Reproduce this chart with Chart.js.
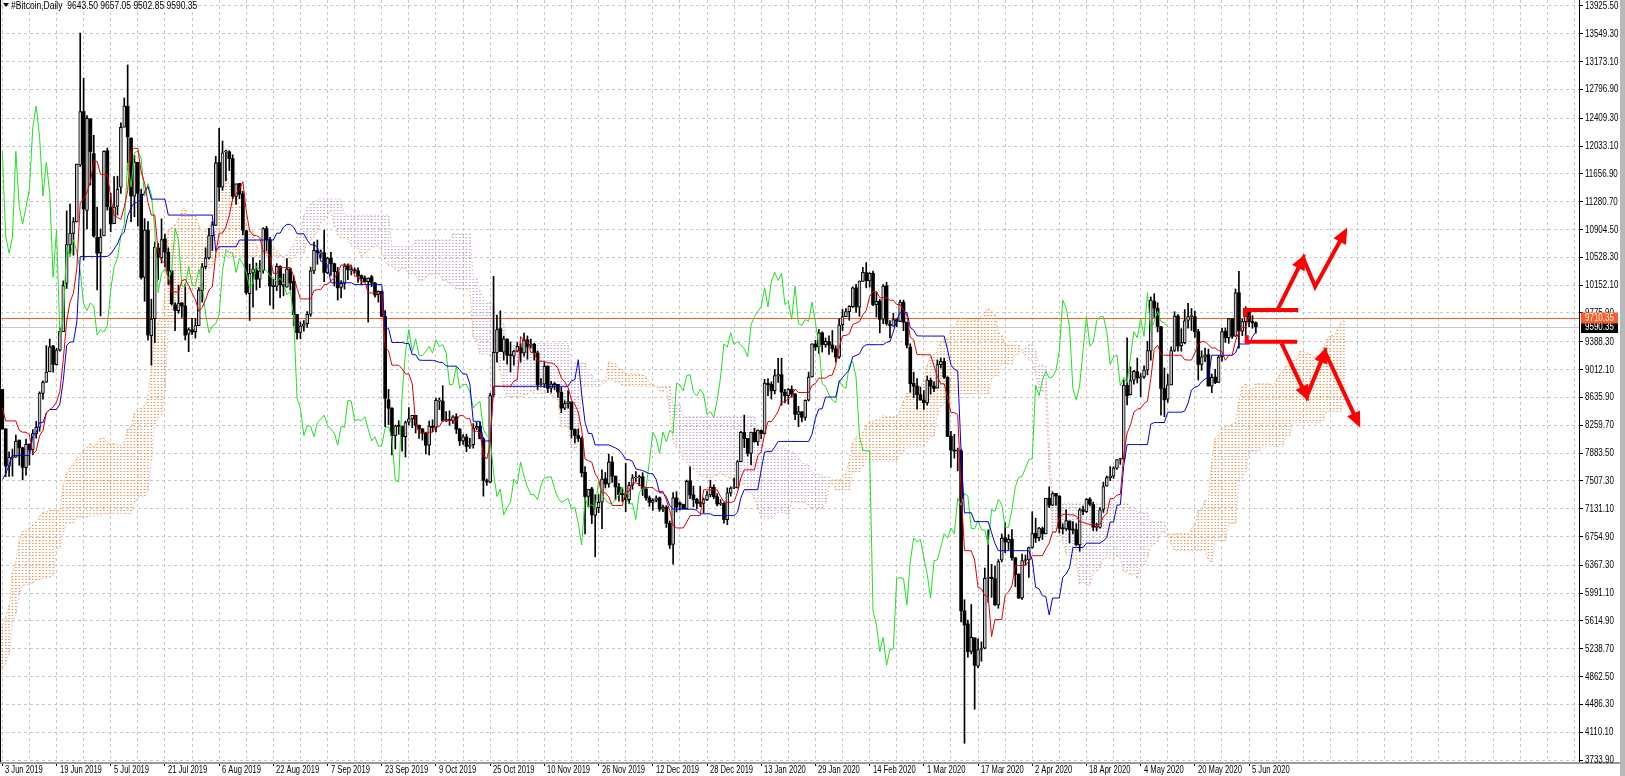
<!DOCTYPE html>
<html><head><meta charset="utf-8">
<script src="https://cdn.jsdelivr.net/npm/chart.js@4.4.1/dist/chart.umd.min.js"></script>
<style>html,body{margin:0;padding:0;background:#fff;overflow:hidden}canvas{display:block}</style>
</head><body>
<canvas id="c" width="1625" height="776"></canvas>
<script>
// ---- axis labels ----
const dateLabels = ['3 Jun 2019','19 Jun 2019','5 Jul 2019','21 Jul 2019','6 Aug 2019','22 Aug 2019','7 Sep 2019','23 Sep 2019','9 Oct 2019','25 Oct 2019','10 Nov 2019','26 Nov 2019','12 Dec 2019','28 Dec 2019','13 Jan 2020','29 Jan 2020','14 Feb 2020','1 Mar 2020','17 Mar 2020','2 Apr 2020','18 Apr 2020','4 May 2020','20 May 2020','5 Jun 2020'];
const priceTicks = [13925.5,13549.3,13173.1,12796.9,12409.3,12033.1,11656.9,11280.7,10904.5,10528.3,10152.1,9775.9,9388.3,9012.1,8635.9,8259.7,7883.5,7507.3,7131.1,6754.9,6367.3,5991.1,5614.9,5238.7,4862.5,4486.3,4110.1,3733.9];
const askPrice = 9710.35;

// ---- daily bars, 3 Jun 2019 .. 7 Jun 2020 ----
const open = [
8742,8210,7705,7819,7827,8058,7954,7684,8005,7930,8145,8231,8690,8842,8980,9330,9078,9274,9525,10175,10696,10853,11007,11779,12500,11162,12400,11931,
10796,10588,10818,11972,11203,10982,11217,11475,12287,12571,12139,11354,11813,11381,10257,10896,9471,9698,10654,10525,10777,10597,10346,9887,9809,9913,9872,9491,9549,9522,9604,
10078,10402,10519,10821,10960,11811,11476,11954,11953,11861,11350,11528,11385,10889,10038,10319,10358,10234,10350,10917,10764,10142,10136,10407,10160,10126,10372,10203,9756,9514,9598,
9630,9757,10345,10621,10588,10590,10316,10518,10443,10336,10123,10176,10415,10345,10356,10347,10282,10248,10201,10266,10183,10025,10067,9729,8603,8488,8114,8251,8246,8104,
8299,8345,8393,8259,8210,8149,7989,8246,8229,8585,8585,8315,8337,8321,8374,8205,8047,8100,7973,7997,8226,8243,8076,7509,7490,8667,9241,9565,9248,9422,9202,
9193,9259,9307,9235,9414,9340,9352,9235,8809,8813,9060,8760,8812,8812,8705,8491,8549,8574,8200,8120,8082,7622,7296,7398,7040,7145,7220,7536,7466,7764,
7571,7424,7321,7320,7254,7450,7548,7551,7561,7397,7277,7216,7244,7277,7124,7153,6931,6647,7277,7208,7188,7131,7508,7317,7255,7205,7202,7254,7317,7420,7294,
7194,7202,6984,7345,7410,7410,7768,8161,8082,7878,8162,8033,8189,8140,8825,8812,8725,8927,8941,8704,8658,8744,8680,8405,8440,8364,8597,8912,9357,9316,9508,
9346,9389,9344,9292,9183,9617,9726,9793,9863,10115,9855,10202,10323,10211,10313,9889,9936,9691,10143,9611,9599,9687,9663,9921,9651,9316,8825,8788,8671,
8599,8563,8866,8788,8760,9078,9122,8908,8111,7922,7910,7913,5750,5573,5201,5385,5002,5227,5245,6191,6206,6185,5831,6436,6738,6675,6719,6467,6245,5925,6430,
6437,6606,6797,6738,6862,6789,7273,7179,7337,7303,6867,6858,6965,6843,6845,6641,7116,7092,7260,7187,6879,6879,7121,7434,7550,7570,7679,7796,7806,8797,
8672,8869,8983,8895,8912,9007,9261,9936,9840,9591,8755,8610,8805,9271,9735,9333,9374,9675,9727,9725,9522,9080,9185,9212,8786,8910,8837,9185,9529,9438,9700,
9463,10050,9530,9660,9800,9660,9643.50];
const high = [
8743,8210,7901,7937,8126,8058,7962,8073,8005,8200,8310,8710,8858,9335,9423,9340,9300,9575,10210,11157,11247,11066,11790,13560,12950,12445,12400,12178,
11206,10912,11968,12006,11395,11620,11625,12345,12683,13129,12144,11906,11814,11451,11052,11010,9963,10736,10716,11048,10841,10657,10346,9916,10154,9916,10167,9575,9704,9701,10120,
10446,10657,10919,11009,11895,12273,12100,11979,11970,11915,11523,11528,11420,10890,10437,10524,10452,10487,10928,10948,10798,10232,10442,10418,10304,10512,10382,10279,9756,9656,9673,
9796,10396,10736,10762,10627,10898,10531,10595,10450,10394,10215,10442,10441,10422,10387,10386,10290,10275,10251,10285,10188,10074,10074,9807,8744,8497,8261,8319,8246,8314,
8497,8393,8393,8260,8215,8163,8316,8332,8625,8627,8793,8445,8453,8390,8414,8216,8134,8138,8082,8281,8297,8303,8093,7532,8692,10270,9749,9805,9463,9426,9383,
9275,9376,9362,9505,9466,9423,9368,9263,8891,9108,9060,8853,8836,8813,8769,8590,8728,8574,8210,8210,8102,7700,7353,7420,7320,7320,7655,7620,7868,7836,
7571,7474,7418,7743,7488,7592,7634,7585,7618,7424,7303,7266,7305,7290,7181,7171,6965,7348,7361,7223,7193,7518,7695,7436,7271,7435,7275,7366,7514,7455,7335,
7255,7212,7413,7428,7544,7781,8178,8396,8082,8166,8218,8197,8197,8879,8890,8846,9012,9164,9164,8745,8755,8792,8687,8515,8442,8602,8977,9358,9406,9553,9521,
9439,9468,9540,9331,9701,9824,9834,9876,10129,10165,10210,10393,10457,10321,10341,10053,9960,10161,10191,9675,9773,9698,9952,9951,9652,9360,8976,8890,8775,
8726,8921,8898,8844,9142,9167,9163,8914,8178,8136,7950,7929,5900,5625,5836,5385,5371,5331,6329,6844,6378,6359,6443,6789,6942,6781,6847,6467,6250,6517,6504,
6612,7088,7003,6878,6883,7271,7427,7357,7337,7303,6926,7119,6965,6958,6928,7134,7167,7269,7280,7220,6934,7145,7491,7574,7700,7700,7795,7815,8871,9440,
9048,9000,9167,8957,9062,9392,9992,10036,9914,9595,9033,8949,9317,9793,9755,9564,9823,9906,9836,9803,9555,9264,9302,9288,8951,9016,9203,9567,9573,9704,9700,
10100,10340,9690,9860,9840,9740,9657.05];
const low = [
8204,7564,7568,7571,7825,7717,7520,7585,7720,7860,8084,8177,8612,8838,8980,8975,9072,9259,9525,10107,10578,10558,11007,11755,10491,10914,11508,10799,
10089,9737,10818,11166,10874,10982,11099,11393,12287,11710,11012,11078,10951,10234,9934,9409,9070,9376,10229,10451,10399,10161,9883,9536,9773,9717,9411,9252,9483,9437,9604,
9923,10371,10503,10620,10960,11290,11433,11561,11700,11323,11248,11320,10831,10028,9675,9855,10086,10119,10313,10618,9883,9831,10078,9982,10008,10126,10087,9601,9421,9428,9531,
9582,9730,10308,10434,10516,10200,10306,10283,10140,9950,9980,10099,10226,10291,10313,10189,10163,10191,9653,10132,9990,9923,9729,8241,8267,7856,7939,8134,7908,7830,
8263,8226,8154,8079,8057,7870,7856,8172,8169,8470,8308,8306,8259,8284,8147,7985,8000,7902,7944,7949,8196,8075,7300,7446,7479,8645,9112,9256,9140,9085,8980,
9072,9249,9112,9191,9151,9305,9141,8741,8796,8768,8700,8704,8742,8636,8429,8470,8491,8090,8020,8040,7560,6790,7155,6930,6480,7076,6860,7410,7420,7485,
7250,7233,7228,7090,7200,7392,7500,7440,7309,7246,7161,7110,7223,7095,7092,6877,6593,6380,7085,7115,7125,7129,7265,7157,7129,7157,7076,7238,7289,7267,7169,
7175,6935,6915,7301,7401,7410,7768,7956,7842,7727,8029,7985,8079,8140,8657,8612,8681,8838,8530,8560,8544,8636,8333,8238,8304,8325,8586,8908,9269,9230,9248,
9313,9217,9248,9112,9163,9539,9726,9678,9850,9784,9730,10202,10116,10125,9874,9722,9507,9632,9611,9440,9598,9591,9660,9537,9305,8704,8633,8475,8599,
8471,8532,8678,8712,8757,9032,8890,8105,7690,7814,7642,5600,3960,5125,5169,4420,4981,5069,5236,5865,5932,5823,5785,6411,6538,6578,6434,6076,5920,5903,6374,
6202,6595,6673,6696,6715,6789,7145,7170,7176,6802,6789,6838,6668,6793,6633,6555,7050,7079,7167,6835,6834,6867,7081,7434,7510,7540,7660,7730,7786,8533,
8667,8815,8830,8645,8891,8939,9138,9717,9520,8395,8374,8569,8805,9255,9261,9260,9358,9570,9539,9447,8870,9002,9118,8787,8700,8821,8834,9124,9379,9366,9432,
9460,9300,9470,9460,9590,9570,9502.85];
const close = [
8208,7707,7825,7822,8044,7954,7688,8000,7927,8145,8231,8693,8839,8978,9320,9082,9274,9528,10145,10701,10855,11011,11790,12500,11182,12407,11959,10817,
10583,10801,11961,11215,10978,11208,11450,12285,12573,12157,11358,11815,11393,10257,10895,9477,9693,10666,10530,10767,10599,10343,9900,9811,9911,9870,9477,9552,9519,9607,10085,
10400,10519,10821,10970,11805,11478,11941,11966,11862,11354,11523,11382,10895,10052,10311,10374,10232,10345,10918,10764,10142,10131,10407,10159,10139,10370,10185,9755,9510,9598,9630,
9757,10346,10623,10595,10588,10324,10517,10441,10334,10115,10178,10410,10360,10358,10347,10277,10241,10199,10249,10182,10019,10070,9730,8621,8487,8119,8251,8245,8104,8294,
8344,8394,8260,8205,8151,7988,8246,8228,8596,8586,8321,8336,8321,8374,8205,8047,8103,7973,7988,8222,8243,8078,7514,7493,8660,9244,9551,9256,9427,9206,9199,
9261,9324,9235,9413,9320,9352,9235,8804,8813,9056,8757,8815,8808,8708,8491,8550,8577,8200,8120,8082,7617,7296,7397,7047,7146,7218,7531,7463,7761,7569,
7424,7321,7320,7252,7448,7547,7556,7564,7400,7278,7217,7243,7269,7124,7152,6932,6640,7277,7150,7187,7132,7501,7317,7255,7205,7202,7254,7317,7422,7293,7193,
7200,6985,7345,7410,7411,7769,8163,8079,7879,8166,8037,8192,8145,8827,8807,8723,8929,8942,8706,8657,8745,8680,8406,8445,8367,8596,8910,9358,9316,9508,9350,
9392,9344,9293,9180,9613,9729,9795,9865,10116,9856,10208,10326,10214,10312,9889,9934,9690,10141,9633,9608,9686,9663,9924,9650,9341,8820,8784,8672,8599,
8562,8869,8787,8756,9078,9122,8909,8108,7923,7909,7911,5750,5560,5200,5392,5014,5225,5238,6191,6198,6185,5830,6416,6734,6681,6716,6469,6243,5922,6429,6438,
6606,6793,6733,6868,6791,7271,7176,7334,7302,6865,6859,6971,6845,6842,6642,7116,7096,7257,7189,6881,6880,7117,7429,7551,7570,7679,7795,7807,8801,8658,
8864,8988,8897,8912,9003,9268,9951,9842,9593,8756,8602,8804,9269,9733,9328,9377,9670,9726,9729,9523,9081,9182,9209,8790,8906,8835,9181,9525,9439,9700,9461,
10050,9530,9660,9800,9660,9643.50,9590.35];

// ---- earlier bars (18 Mar .. 2 Jun 2019), left of the view, feed the Ichimoku look-back ----
const preHigh = [
4040,4040,4060,4090,4010,4020,4010,4000,3950,4090,4070,4120,4130,4110,
4150,4900,5300,5050,5060,5100,5250,5280,5220,5460,5360,5090,5120,5150,5200,5230,5300,5330,5340,5350,5350,5460,5600,5620,5470,5330,5270,5290,5270,5340,
5390,5490,5800,5880,5810,5800,5980,6020,6180,6430,7300,7500,8050,8300,8210,8320,7930,7430,8260,8200,8030,8040,7950,8140,8100,8660,8900,8800,8720,9070,8600,
8620,8810];
const preLow = [
3960,3970,3990,3970,3980,3980,3970,3900,3900,3930,4020,4030,4050,4080,
4070,4140,4880,4870,4950,5000,5050,5150,5120,5200,5000,4970,5050,5020,5000,5000,5210,5260,5250,5270,5240,5290,5380,5400,5100,5070,5170,5190,5150,5190,
5330,5380,5470,5550,5670,5610,5730,5760,5980,6130,6380,6800,6920,7690,7900,7750,6630,7160,7250,7600,7820,7560,7540,7860,7930,7920,8670,8600,8450,8500,8040,
8500,8540];

// ---- hand-drawn red annotation (bar index, price) ----
const bracketTopX = [366.8, 366.8, 382.5], bracketTopY = [9720, 9816, 9816];
const bracketBotX = [367.3, 367.3, 382.2], bracketBotY = [9475, 9388, 9388];
const zigUpX = [376.6, 384.0, 387.5, 396.3], zigUpY = [9839, 10515, 10131, 10871];
const zigDnX = [377.6, 385.0, 390.4, 400.2], zigDnY = [9366, 8644, 9253, 8285];

const N = close.length;
if (open.length!==N || high.length!==N || low.length!==N || preHigh.length!==77 || preLow.length!==77)
  throw new Error('length mismatch '+[open.length,high.length,low.length,N,preHigh.length,preLow.length]);

// ---- Ichimoku (9,26,52) from the bars ----
const P = preHigh.length;
const allH = preHigh.concat(high), allL = preLow.concat(low);
function mid(k,n){let hi=-Infinity,lo=Infinity;for(let m=k-n+1;m<=k;m++){if(allH[m]>hi)hi=allH[m];if(allL[m]<lo)lo=allL[m];}return (hi+lo)/2;}
const tenkan = close.map((_,i)=>({x:i,y:mid(i+P,9)}));
const kijun  = close.map((_,i)=>({x:i,y:mid(i+P,26)}));
const spanA=[], spanB=[];
for(let j=0;j<N+26;j++){const k=j-26+P;spanA.push({x:j,y:(mid(k,9)+mid(k,26))/2});spanB.push({x:j,y:mid(k,52)});}
const chikou=[]; for(let j=0;j+26<N;j++) chikou.push({x:j,y:close[j+26]});

const FONT = "'Liberation Sans',Arial,sans-serif";
Chart.defaults.font.family = FONT;

function dotPattern(col){const c=document.createElement('canvas');c.width=1;c.height=3;const g=c.getContext('2d');g.fillStyle=col;g.fillRect(0,0,1,1);return g.createPattern(c,'repeat');}
const patSandy = dotPattern('rgba(240,150,80,0.95)');
const patThistle = dotPattern('rgba(190,160,200,0.9)');

const XMIN = -0.68, XMAX = 465.38, YMIN = 3706.9, YMAX = 14006.6;
const gridIdx=[]; for(let v=0; v<=464; v+=8) gridIdx.push(v);
const pts=(xs,ys)=>xs.map((x,i)=>({x,y:ys[i]}));
const isBull=i=>close[i]>=open[i];

const annot = {borderColor:'#ff0000', borderWidth:4, pointRadius:0, fill:false, tension:0, borderJoinStyle:'miter', borderCapStyle:'butt', order:0, type:'line'};

const datasets = [
 Object.assign({label:'brT', data:pts(bracketTopX,bracketTopY)}, annot),
 Object.assign({label:'brB', data:pts(bracketBotX,bracketBotY)}, annot),
 Object.assign({label:'zigUp', data:pts(zigUpX,zigUpY)}, annot),
 Object.assign({label:'zigDn', data:pts(zigDnX,zigDnY)}, annot),
 {type:'line', label:'Tenkan', data:tenkan, borderColor:'#e00000', borderWidth:1, pointRadius:0, tension:0, order:1},
 {type:'line', label:'Kijun', data:kijun, borderColor:'#0000e0', borderWidth:1, pointRadius:0, tension:0, order:1},
 {type:'line', label:'Chikou', data:chikou, borderColor:'#22e022', borderWidth:1, pointRadius:0, tension:0, order:1},
 {type:'bar', label:'body', data:close.map((c,i)=>({x:i,y:[open[i],c]})), grouped:false, barThickness:3, minBarLength:1,
   backgroundColor:ctx=>isBull(ctx.dataIndex)?'#c4c4c4':'#000', borderColor:'#000', borderWidth:ctx=>isBull(ctx.dataIndex)?1:0, borderSkipped:false, order:2},
 {type:'bar', label:'wick', data:close.map((c,i)=>({x:i,y:[low[i],high[i]]})), grouped:false, barThickness:1, backgroundColor:'#000', order:3},
 {type:'line', label:'SpanA', data:spanA, borderColor:'rgba(244,164,96,0.8)', borderWidth:1, borderDash:[2,2], pointRadius:0, tension:0, order:4},
 {type:'line', label:'SpanB', data:spanB, borderColor:'rgba(216,191,216,0.9)', borderWidth:1, borderDash:[2,2], pointRadius:0, tension:0, order:4},
 {type:'bar', label:'kumo', data:spanA.map((a,j)=>({x:j,y:[a.y,spanB[j].y]})), grouped:false, barThickness:1,
   backgroundColor:ctx=>{const j=ctx.dataIndex;return spanA[j].y>=spanB[j].y?patSandy:patThistle;}, order:5}
];

function head(ctx,x0,y0,x1,y1){const a=Math.atan2(y1-y0,x1-x0),c=Math.cos(a),s=Math.sin(a);const tx=x1+5*c,ty=y1+5*s,len=16,w=7;
 ctx.beginPath();ctx.moveTo(tx,ty);ctx.lineTo(tx-len*c+w*s,ty-len*s-w*c);ctx.lineTo(tx-len*c-w*s,ty-len*s+w*c);ctx.closePath();ctx.fill();}
function narrowText(ctx,txt,x,y,sx){ctx.save();ctx.translate(x,y);ctx.scale(sx,1);ctx.fillText(txt,0,0);ctx.restore();}

const mt4 = {
 id:'mt4',
 beforeDraw(ch){const c=ch.ctx;c.save();c.fillStyle='#fff';c.fillRect(0,0,ch.width,ch.height);c.restore();},
 beforeDatasetsDraw(ch){const {ctx,chartArea:a,scales:{y}}=ch;ctx.save();ctx.lineWidth=1;
   const yb=Math.round(y.getPixelForValue(close[N-1]))+0.5;ctx.strokeStyle='#c8c8c8';ctx.beginPath();ctx.moveTo(a.left,yb);ctx.lineTo(a.right,yb);ctx.stroke();
   const ya=Math.round(y.getPixelForValue(askPrice))+0.5;ctx.strokeStyle='#ff5a28';ctx.beginPath();ctx.moveTo(a.left,ya);ctx.lineTo(a.right,ya);ctx.stroke();
   ctx.restore();},
 afterDatasetsDraw(ch){const ctx=ch.ctx;ctx.save();ctx.fillStyle='#ff0000';
   const heads=[[2,[1,3]],[3,[1,2,3]]];
   for(const [di,ks] of heads){const el=ch.getDatasetMeta(di).data;for(const k of ks){head(ctx,el[k-1].x,el[k-1].y,el[k].x,el[k].y);}}
   ctx.restore();},
 afterDraw(ch){const {ctx,chartArea:a,scales:{x,y}}=ch;ctx.save();
   // frame
   ctx.fillStyle='#000';ctx.fillRect(0,0,1,a.bottom);
   ctx.fillStyle='#9a9a9a';ctx.fillRect(0,a.bottom,1620,2);
   ctx.fillStyle='#b8b8b8';ctx.fillRect(1620,0,5,776);
   // price scale labels
   ctx.fillStyle='#000';ctx.font='10px '+FONT;ctx.textBaseline='middle';ctx.textAlign='left';
   for(const v of priceTicks){narrowText(ctx,v.toFixed(2),a.right+6,Math.round(y.getPixelForValue(v))+0.5,0.8);}
   // time scale labels
   dateLabels.forEach((t,i)=>{narrowText(ctx,t,Math.round(x.getPixelForValue(16*i))+3,770,0.76);});
   // price boxes
   const yb=Math.round(y.getPixelForValue(close[N-1])), ya=Math.round(y.getPixelForValue(askPrice));
   ctx.fillStyle='#000';ctx.fillRect(a.right+2,yb-5,37,11);ctx.fillStyle='#fff';narrowText(ctx,close[N-1].toFixed(2),a.right+6,yb+0.5,0.8);
   ctx.fillStyle='#ff5a28';ctx.fillRect(a.right+2,ya-5.5,37,11);ctx.fillStyle='#fff';narrowText(ctx,askPrice.toFixed(2),a.right+6,ya,0.8);
   // title
   ctx.fillStyle='#000';ctx.beginPath();ctx.moveTo(3,3);ctx.lineTo(9,3);ctx.lineTo(6,7);ctx.closePath();ctx.fill();
   ctx.textBaseline='alphabetic';
   narrowText(ctx,'#Bitcoin,Daily  '+[open[N-1],high[N-1],low[N-1],close[N-1]].map(v=>v.toFixed(2)).join(' '),11,9,0.85);
   ctx.restore();}
};

new Chart(document.getElementById('c'),{
 type:'bar',
 data:{datasets},
 options:{
  responsive:false, animation:false, devicePixelRatio:1, events:[],
  layout:{padding:0},
  plugins:{legend:{display:false},tooltip:{enabled:false}},
  scales:{
   x:{type:'linear',position:'bottom',min:XMIN,max:XMAX,offset:false,
      afterFit(s){s.height=14;},
      afterBuildTicks(s){s.ticks=gridIdx.map(v=>({value:v}));},
      grid:{color:'#c8c8c8',lineWidth:1,offset:false,drawTicks:true,tickLength:4,
            tickColor:ctx=>(ctx.tick&&ctx.tick.value%16===0&&ctx.tick.value<=368)?'#000':'rgba(0,0,0,0)'},
      border:{display:false,dash:[3,3]},
      ticks:{display:false,autoSkip:false}},
   y:{type:'linear',position:'right',min:YMIN,max:YMAX,
      afterFit(s){s.width=46;},
      afterBuildTicks(s){s.ticks=priceTicks.map(v=>({value:v}));},
      grid:{color:'#c8c8c8',lineWidth:1,tickLength:4,tickColor:'#000'},
      border:{display:true,color:'#000',width:1,dash:[3,3]},
      ticks:{display:false,autoSkip:false}}
  }
 },
 plugins:[mt4]
});
</script>
</body></html>
